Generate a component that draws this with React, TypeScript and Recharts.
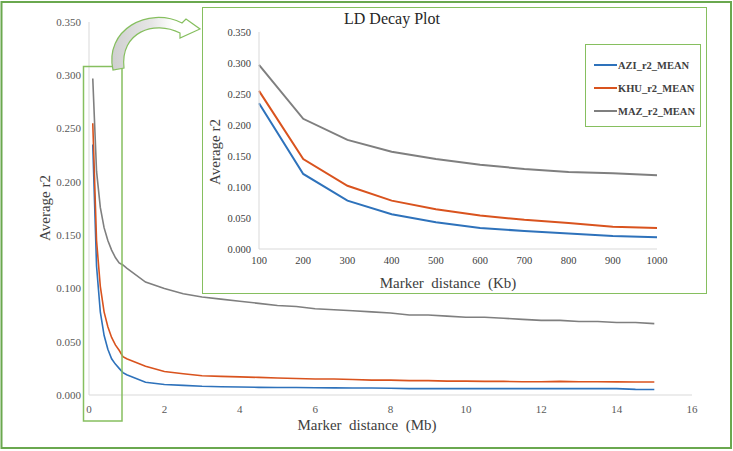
import { LineChart, Line, XAxis, YAxis } from 'recharts';

// distances in Mb for the full chart
const mbPositions = [
  0.1, 0.2, 0.3, 0.4, 0.5, 0.6, 0.7, 0.8, 0.9, 1.0, 1.5, 2, 2.5, 3, 3.5, 4, 4.5, 5, 5.5, 6, 6.5, 7, 7.5,
  8, 8.5, 9, 9.5, 10, 10.5, 11, 11.5, 12, 12.5, 13, 13.5, 14, 14.5, 15,
];
const aziMain = [
  0.235, 0.121, 0.078, 0.056, 0.043, 0.034, 0.029, 0.025, 0.021, 0.019, 0.012, 0.0098, 0.009, 0.0082,
  0.0078, 0.0075, 0.0072, 0.007, 0.007, 0.0068, 0.0067, 0.0066, 0.0066, 0.0064, 0.006, 0.006, 0.006,
  0.006, 0.006, 0.006, 0.006, 0.006, 0.006, 0.006, 0.006, 0.006, 0.0053, 0.0052,
];
const khuMain = [
  0.255, 0.145, 0.102, 0.078, 0.064, 0.054, 0.047, 0.042, 0.036, 0.034, 0.027, 0.022, 0.02, 0.018,
  0.0175, 0.017, 0.0165, 0.016, 0.0155, 0.015, 0.015, 0.0145, 0.014, 0.014, 0.0135, 0.0135, 0.013,
  0.013, 0.0128, 0.0128, 0.0125, 0.0125, 0.0128, 0.0125, 0.0125, 0.0123, 0.0122, 0.0122,
];
const mazMain = [
  0.297, 0.21, 0.176, 0.157, 0.145, 0.136, 0.129, 0.124, 0.122, 0.119, 0.106, 0.1, 0.095, 0.092,
  0.09, 0.088, 0.086, 0.084, 0.083, 0.081, 0.08, 0.079, 0.078, 0.077, 0.075, 0.075, 0.074, 0.073,
  0.073, 0.072, 0.071, 0.07, 0.07, 0.069, 0.069, 0.068, 0.068, 0.067,
];

// zoomed-in first megabase, in Kb
const kbPositions = [100, 200, 300, 400, 500, 600, 700, 800, 900, 1000];
const aziInset = [0.235, 0.121, 0.078, 0.056, 0.043, 0.034, 0.029, 0.025, 0.021, 0.019];
const khuInset = [0.255, 0.145, 0.102, 0.078, 0.064, 0.054, 0.047, 0.042, 0.036, 0.034];
const mazInset = [0.297, 0.21, 0.176, 0.157, 0.145, 0.136, 0.129, 0.124, 0.122, 0.119];

const mbTicks = [0, 2, 4, 6, 8, 10, 12, 14, 16];
const kbTicks = [100, 200, 300, 400, 500, 600, 700, 800, 900, 1000];
const r2Ticks = [0, 0.05, 0.1, 0.15, 0.2, 0.25, 0.3, 0.35];

const seriesNames = ['AZI_r2_MEAN', 'KHU_r2_MEAN', 'MAZ_r2_MEAN'];
const seriesColors = ['#2e72bb', '#d9531e', '#7f7f7f'];

const mainData = mbPositions.map((mb, i) => ({
  mb,
  AZI_r2_MEAN: aziMain[i],
  KHU_r2_MEAN: khuMain[i],
  MAZ_r2_MEAN: mazMain[i],
}));
const insetData = kbPositions.map((kb, i) => ({
  kb,
  AZI_r2_MEAN: aziInset[i],
  KHU_r2_MEAN: khuInset[i],
  MAZ_r2_MEAN: mazInset[i],
}));

const serif = 'Liberation Serif, Times New Roman, serif';
const green = '#86bf5f';

const fmt = (v: number) => v.toFixed(3);

export default function App() {
  return (
    <div style={{ position: 'absolute', left: 0, top: 0, width: 733, height: 451, background: '#fff', fontFamily: serif }}>
      <LineChart
        width={733}
        height={451}
        data={mainData}
        margin={{ top: 22, right: 41, bottom: 26, left: 29 }}
        style={{ fontFamily: serif }}
      >
        <XAxis
          dataKey="mb"
          type="number"
          domain={[0, 16]}
          ticks={mbTicks}
          height={30}
          tickLine={false}
          stroke="#d9d9d9"
          tick={{ fontSize: 11, fill: '#595959', style: { fontFamily: serif } }}
          tickMargin={4}
          label={() => (
            <text x={367} y={430} textAnchor="middle" fontSize={15} fill="#404040" style={{ whiteSpace: 'pre', fontFamily: serif }}>
              {'Marker  distance  (Mb)'}
            </text>
          )}
        />
        <YAxis
          type="number"
          domain={[0, 0.35]}
          ticks={r2Ticks}
          width={60}
          tickLine={false}
          stroke="#d9d9d9"
          tickFormatter={fmt}
          tick={{ fontSize: 11, fill: '#595959', style: { fontFamily: serif } }}
          label={() => (
            <text x={45} y={208} transform="rotate(-90 45 208)" textAnchor="middle" dominantBaseline="central" fontSize={15} fill="#404040" style={{ fontFamily: serif }}>
              Average r2
            </text>
          )}
        />
        {seriesNames.map((s, i) => (
          <Line key={s} dataKey={s} stroke={seriesColors[i]} strokeWidth={1.6} dot={false} isAnimationActive={false} type="linear" />
        ))}
      </LineChart>

      <svg width={733} height={451} style={{ position: 'absolute', left: 0, top: 0, pointerEvents: 'none' }}>
        <defs>
          <linearGradient id="arrowFill" x1="0" y1="0" x2="1" y2="0">
            <stop offset="0" stopColor="#cfcfcf" />
            <stop offset="0.45" stopColor="#e6e6e6" />
            <stop offset="0.7" stopColor="#ffffff" />
          </linearGradient>
        </defs>
        <rect x={1.5} y={2} width={729.5} height={446} fill="none" stroke="#6aa84f" strokeWidth={2} />
        <rect x={83.5} y={66.5} width={38.5} height={354.5} fill="none" stroke={green} strokeWidth={1.5} />
        <path
          d="M113,70 C104,30 148,6 182,23 L186,19 L200,29 L180,38 L180,33 C154,20 120,32 124,68 Z"
          fill="url(#arrowFill)"
          stroke={green}
          strokeWidth={1.2}
        />
      </svg>

      <div
        style={{
          position: 'absolute',
          left: 202,
          top: 7,
          width: 505,
          height: 287,
          boxSizing: 'border-box',
          border: `1.5px solid ${green}`,
          background: '#fff',
        }}
      >
        <div style={{ position: 'absolute', left: 0, width: 378, top: 2, textAlign: 'center', fontSize: 16, color: '#262626' }}>
          LD Decay Plot
        </div>
        <LineChart
          width={502}
          height={284}
          data={insetData}
          margin={{ top: 24, right: 48, bottom: 15, left: 0 }}
          style={{ fontFamily: serif }}
        >
          <XAxis
            dataKey="kb"
            type="number"
            domain={[100, 1000]}
            ticks={kbTicks}
            height={28}
            tickLine={false}
            stroke="#d9d9d9"
            tick={{ fontSize: 10.5, fill: '#404040', style: { fontFamily: serif } }}
            label={() => (
              <text x={245} y={280} textAnchor="middle" fontSize={15} fill="#404040" style={{ whiteSpace: 'pre', fontFamily: serif }}>
                {'Marker  distance  (Kb)'}
              </text>
            )}
          />
          <YAxis
            type="number"
            domain={[0, 0.35]}
            ticks={r2Ticks}
            width={56}
            tickLine={false}
            stroke="#d9d9d9"
            tickFormatter={fmt}
            tick={{ fontSize: 10.5, fill: '#404040', style: { fontFamily: serif } }}
            label={() => (
              <text x={12} y={144} transform="rotate(-90 12 144)" textAnchor="middle" dominantBaseline="central" fontSize={15} fill="#404040" style={{ fontFamily: serif }}>
                Average r2
              </text>
            )}
          />
          {seriesNames.map((s, i) => (
            <Line key={s} dataKey={s} stroke={seriesColors[i]} strokeWidth={2} dot={false} isAnimationActive={false} type="linear" />
          ))}
        </LineChart>
        <div
          style={{
            position: 'absolute',
            left: 382,
            top: 36,
            width: 116,
            height: 83,
            boxSizing: 'border-box',
            border: `1.5px solid ${green}`,
            background: '#fff',
          }}
        >
          {seriesNames.map((s, i) => (
            <div key={s} style={{ position: 'absolute', left: 8, top: 12 + i * 23, height: 16, display: 'flex', alignItems: 'center' }}>
              <span style={{ display: 'inline-block', width: 23, height: 2, background: seriesColors[i] }} />
              <span style={{ marginLeft: 1, fontSize: 10.5, fontWeight: 'bold', color: '#404040', fontFamily: serif }}>{s}</span>
            </div>
          ))}
        </div>
      </div>
    </div>
  );
}
